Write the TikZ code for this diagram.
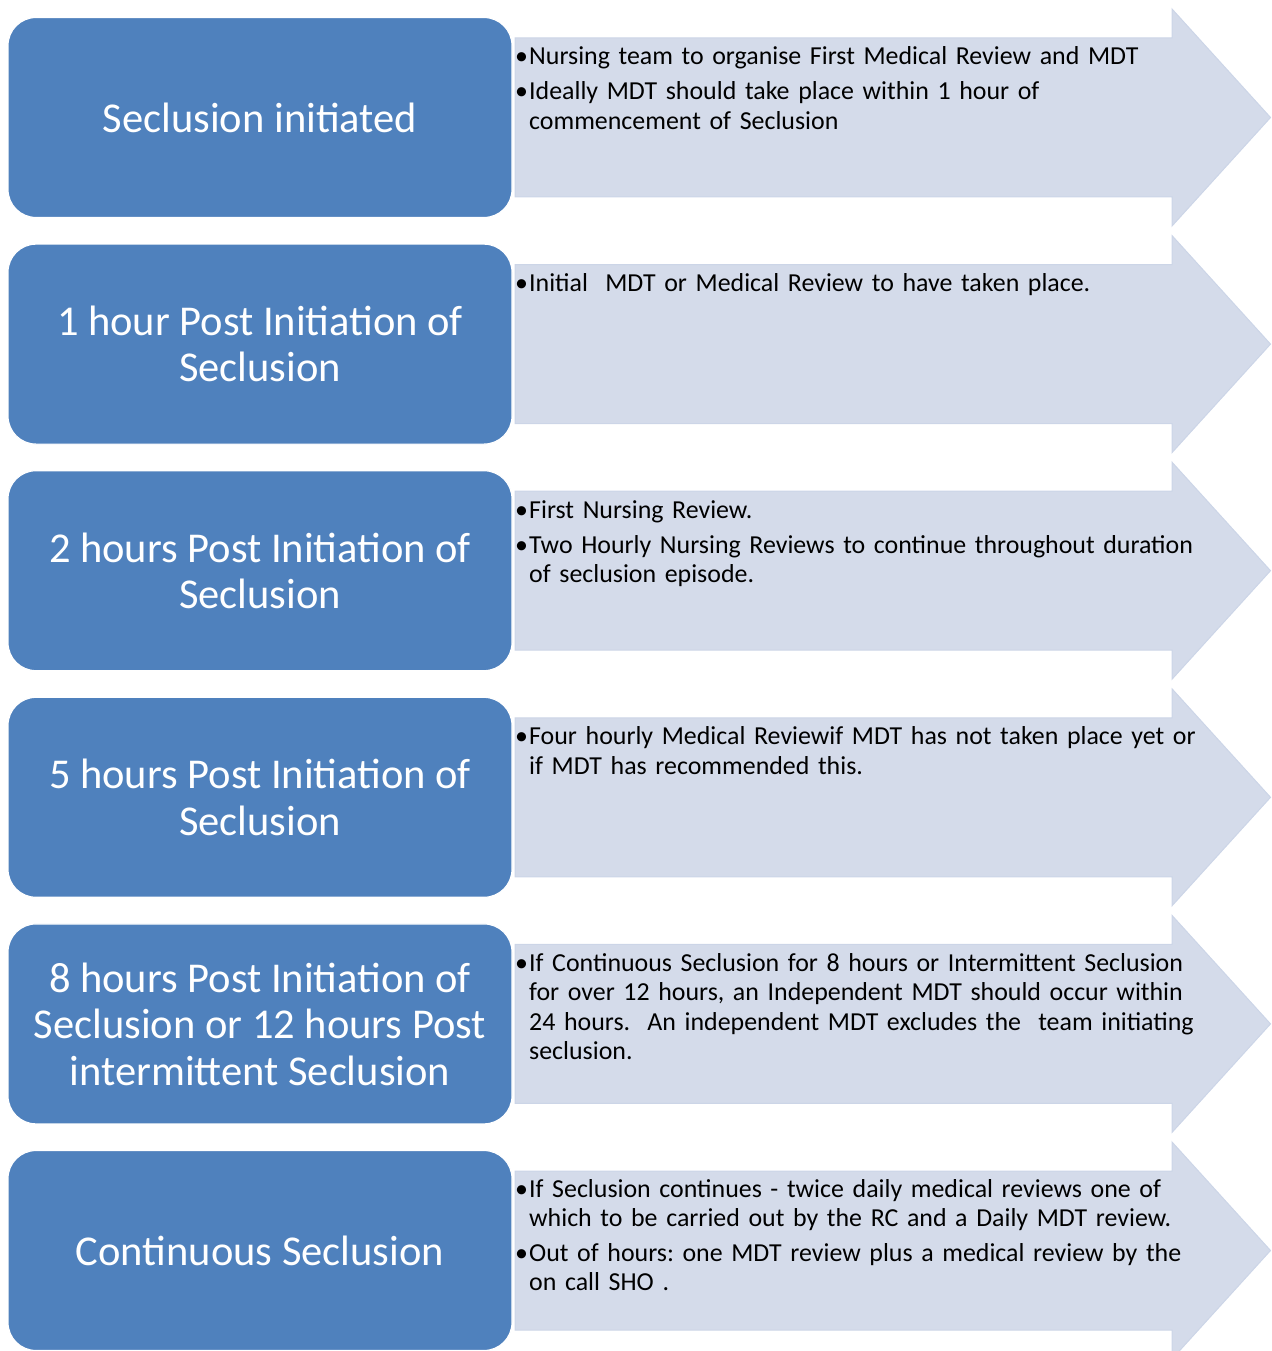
\documentclass[tikz,border=0pt]{standalone}
\usepackage{fontspec}
\setmainfont{Carlito}
\frenchspacing
\definecolor{boxblue}{HTML}{4F81BD}
\definecolor{arrowfill}{HTML}{D4DBEA}
\definecolor{arrowedge}{HTML}{CCD5E7}
\newcommand\bitem[1]{\par\hangindent=14pt\hangafter=1\noindent\makebox[14pt][l]{\rule{0pt}{19pt}•}#1\par}
\begin{document}
\begin{tikzpicture}[x=1pt,y=-1pt,
  stagebox/.style={draw=white,line width=1.2pt,fill=boxblue,rounded corners=28pt,
    minimum width=504pt,minimum height=200pt,inner sep=0pt,text=white,align=center,
    font=\fontsize{42.5}{46.5}\selectfont},
  arrowshape/.style={fill=arrowfill,draw=arrowedge,line width=1pt,line join=miter},
  notes/.style={anchor=north west,inner sep=0pt,text width=740pt,align=left,
    font=\fontsize{25.9}{29.3}\selectfont,
    execute at begin node={\setlength\parskip{5.5pt}\frenchspacing}}]
\useasboundingbox (0,0) rectangle (1271,1351);
% arrows
\foreach \i in {0,...,5}{
  \pgfmathsetmacro\c{117.5+226.6*\i}
  \draw[arrowshape] (515,\c-79.5) -- (1172,\c-79.5) -- (1172,\c-108.5) -- (1270.5,\c)
     -- (1172,\c+108.5) -- (1172,\c+79.5) -- (515,\c+79.5) -- cycle;
}
% stage boxes
\node[stagebox] (s1) at (260,117.5) {Seclusion initiated};
\node[stagebox] (s2) at (260,344.1) {1 hour Post Initiation of\\Seclusion};
\node[stagebox] (s3) at (260,570.7) {2 hours Post Initiation of\\Seclusion};
\node[stagebox] (s4) at (260,797.3) {5 hours Post Initiation of\\Seclusion};
\node[stagebox] (s5) at (260,1023.9) {8 hours Post Initiation of\\Seclusion or 12 hours Post\\intermittent Seclusion};
\node[stagebox] (s6) at (260,1250.5) {Continuous Seclusion};
% notes
\node[notes] (n1) at (515,30) {%
  \bitem{Nursing team to organise First Medical Review and MDT}%
  \bitem{Ideally MDT should take place within 1 hour of\newline commencement of Seclusion}};
\node[notes] (n2) at (515,256.1) {%
  \bitem{Initial\ \ MDT or Medical Review to have taken place.}};
\node[notes] (n3) at (515,483.2) {%
  \bitem{First Nursing Review.}%
  \bitem{Two Hourly Nursing Reviews to continue throughout duration\newline of seclusion episode.}};
\node[notes] (n4) at (515,709.8) {%
  \bitem{Four hourly Medical Reviewif MDT has not taken place yet or\newline if MDT has recommended this.}};
\node[notes] (n5) at (515,936.4) {%
  \bitem{If Continuous Seclusion for 8 hours or Intermittent Seclusion\newline for over 12 hours, an Independent MDT should occur within\newline 24 hours.\ \ An independent MDT excludes the\ \ team initiating\newline seclusion.}};
\node[notes] (n6) at (515,1162.5) {%
  \bitem{If Seclusion continues - twice daily medical reviews one of\newline which to be carried out by the RC and a Daily MDT review.}%
  \bitem{Out of hours: one MDT review plus a medical review by the\newline on call SHO .}};
\end{tikzpicture}
\end{document}
